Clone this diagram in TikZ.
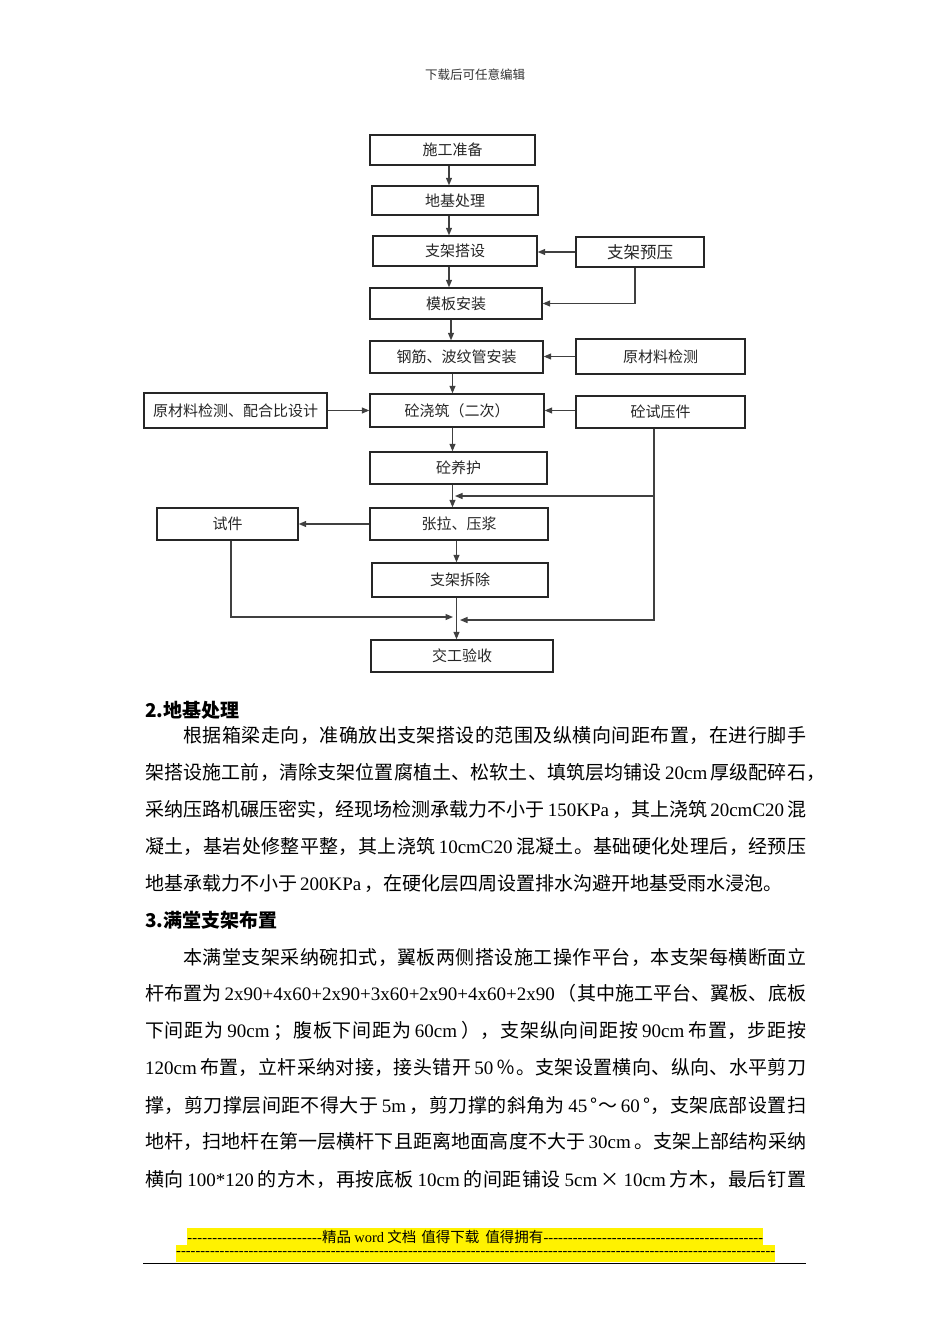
\documentclass[tikz,border=0pt]{standalone}
\usepackage{fontspec}
\setmainfont{Noto Sans CJK SC}
\newfontfamily\latf{Liberation Serif}
\usetikzlibrary{arrows.meta}

\newcount\mycc
\def\setcls#1#2{\mycc=#1 \loop\XeTeXcharclass\mycc=7 \advance\mycc by 1 \ifnum\mycc<#2 \repeat}
\setcls{"3000}{"3040}
\setcls{"4E00}{"A000}
\setcls{"FF00}{"FFF0}
\def\cjkg{\hskip 0pt plus 1fil minus 1pt\relax}
\XeTeXinterchartoks 7 7 = {\cjkg}
\XeTeXinterchartoks 7 0 = {\cjkg}
\XeTeXinterchartoks 0 7 = {\cjkg}
\newcommand\lat[1]{\hskip 3pt plus 1fil minus 1pt{\latf #1}\hskip 3pt plus 1fil minus 1pt\relax}
\newcommand\latb[1]{{\latf #1}\hskip 3pt plus 1fil minus 1pt\relax}
\newcommand\jl[2]{\hbox to #1{\XeTeXinterchartokenstate=1 #2}}
\newcommand\nl[1]{\hbox{\XeTeXinterchartokenstate=1 #1}}
\newcommand\dashrun{{\latf\xleaders\hbox{-}\hfill}}

\tikzset{
  fbox/.style={draw=black!85, line width=1.4pt, inner sep=0pt, font=\fontsize{15}{15}\selectfont, text=black!85},
  conn/.style={draw=black!75, line width=1.2pt},
  arr/.style={conn, -{Triangle[length=7.5pt,width=6pt]}},
  body/.style={anchor=base west, inner sep=0pt, font=\fontsize{19}{19}\selectfont},
  head/.style={anchor=base west, inner sep=0pt, font=\fontsize{19}{19}\selectfont\bfseries},
}

\begin{document}
\begin{tikzpicture}[x=1pt, y=-1pt]
\fill[white] (0,0) rectangle (950,1344);
\path[use as bounding box] (0,0) rectangle (950,1344);

% header
\node[font=\fontsize{12.5}{12.5}\selectfont, text=black!80, inner sep=0pt] (hdr) at (475,75) {下载后可任意编辑};

% flowchart boxes
\node[fbox, minimum width=165pt, minimum height=30pt] (A) at (452.5,150) {施工准备};
\node[fbox, minimum width=166pt, minimum height=29pt] (B) at (455,200.5) {地基处理};
\node[fbox, minimum width=164pt, minimum height=30pt] (C) at (455,251) {支架搭设};
\node[fbox, minimum width=128pt, minimum height=30pt, font=\fontsize{16.5}{16.5}\selectfont] (P) at (640,252) {支架预压};
\node[fbox, minimum width=172pt, minimum height=31pt] (D) at (456,303.5) {模板安装};
\node[fbox, minimum width=173pt, minimum height=32pt] (E) at (456.5,357) {钢筋、波纹管安装};
\node[fbox, minimum width=169pt, minimum height=35pt] (R) at (660.5,356.5) {原材料检测};
\node[fbox, minimum width=183pt, minimum height=35pt] (L) at (235.5,410.5) {原材料检测、配合比设计};
\node[fbox, minimum width=174pt, minimum height=33pt] (F) at (457,410.5) {砼浇筑（二次）};
\node[fbox, minimum width=169pt, minimum height=32pt] (S) at (660.5,412) {砼试压件};
\node[fbox, minimum width=177pt, minimum height=32pt] (G) at (458.5,468) {砼养护};
\node[fbox, minimum width=141pt, minimum height=32pt] (T) at (227.5,524) {试件};
\node[fbox, minimum width=178pt, minimum height=32pt] (H) at (459,524) {张拉、压浆};
\node[fbox, minimum width=176pt, minimum height=34pt] (I) at (460,580) {支架拆除};
\node[fbox, minimum width=182pt, minimum height=32pt] (J) at (462,656) {交工验收};

% columns and bend points
\coordinate (c1) at (449,0);
\coordinate (c2) at (451,0);
\coordinate (c3) at (452.5,0);
\coordinate (c4) at (456.5,0);
\coordinate (pk) at (635,0);
\coordinate (sk) at (654,0);
\coordinate (tk) at (231,0);
\coordinate (sm) at (654,496);
\coordinate (t1) at (455,496);
\coordinate (t2) at (460,620);
\coordinate (t3) at (453,617);

% main chain
\draw[arr] (A.south -| c1) -- (B.north -| c1);
\draw[arr] (B.south -| c1) -- (C.north -| c1);
\draw[arr] (C.south -| c1) -- (D.north -| c1);
\draw[arr] (D.south -| c2) -- (E.north -| c2);
\draw[arr] (E.south -| c3) -- (F.north -| c3);
\draw[arr] (F.south -| c3) -- (G.north -| c3);
\draw[arr] (G.south -| c3) -- (H.north -| c3);
\draw[arr] (H.south -| c4) -- (I.north -| c4);
\draw[arr] (I.south -| c4) -- (J.north -| c4);

% side connectors
\draw[arr] (P.west) -- (P.west -| C.east);
\draw[arr] (P.south -| pk) |- (D.east);
\draw[arr] (R.west) -- (R.west -| E.east);
\draw[arr] (L.east) -- (L.east -| F.west);
\draw[arr] (S.west |- F.east) -- (F.east);
\draw[arr] (S.south -| sk) |- (t2);
\draw[arr] (sm) -- (t1);
\draw[arr] (H.west) -- (H.west -| T.east);
\draw[arr] (T.south -| tk) |- (t3);

% section 2
\node[head] (h2) at (145,717) {2.地基处理};
\node[body] (p1a) at (183,742) {\jl{623pt}{根据箱梁走向，准确放出支架搭设的范围及纵横向间距布置，在进行脚手}};
\node[body] (p1b) at (145,779) {\jl{680pt}{架搭设施工前，清除支架位置腐植土、松软土、填筑层均铺设\lat{20cm}厚级配碎石，}};
\node[body] (p1c) at (145,816) {\jl{661pt}{采纳压路机碾压密实，经现场检测承载力不小于\lat{150KPa}，其上浇筑\lat{20cmC20}混}};
\node[body] (p1d) at (145,853) {\jl{661pt}{凝土，基岩处修整平整，其上浇筑\lat{10cmC20}混凝土。基础硬化处理后，经预压}};
\node[body] (p1e) at (145,890) {\nl{地基承载力不小于\lat{200KPa}，在硬化层四周设置排水沟避开地基受雨水浸泡。}};

% section 3
\node[head] (h3) at (145,927) {3.满堂支架布置};
\node[body] (p2a) at (183,964) {\jl{623pt}{本满堂支架采纳碗扣式，翼板两侧搭设施工操作平台，本支架每横断面立}};
\node[body] (p2b) at (145,1000) {\jl{661pt}{杆布置为\lat{2x90+4x60+2x90+3x60+2x90+4x60+2x90}（其中施工平台、翼板、底板}};
\node[body] (p2c) at (145,1037) {\jl{661pt}{下间距为\lat{90cm}；腹板下间距为\lat{60cm}），支架纵向间距按\lat{90cm}布置，步距按}};
\node[body] (p2d) at (145,1074) {\jl{661pt}{\latb{120cm}布置，立杆采纳对接，接头错开\lat{50}％。支架设置横向、纵向、水平剪刀}};
\node[body] (p2e) at (145,1112) {\jl{661pt}{撑，剪刀撑层间距不得大于\lat{5m}，剪刀撑的斜角为\lat{45}°～\lat{60}°，支架底部设置扫}};
\node[body] (p2f) at (145,1148) {\jl{661pt}{地杆，扫地杆在第一层横杆下且距离地面高度不大于\lat{30cm}。支架上部结构采纳}};
\node[body] (p2g) at (145,1186) {\jl{661pt}{横向\lat{100*120}的方木，再按底板\lat{10cm}的间距铺设\lat{5cm}×\lat{10cm}方木，最后钉置}};

% footer
\node[anchor=west, fill=yellow, inner sep=0pt, minimum height=17pt, font=\fontsize{14.5}{14.5}\selectfont] (f1) at (187,1236.5)
  {\hbox to 576pt{\hbox to 135pt{\dashrun}精品 {\latf word} 文档\hspace{5pt}值得下载\hspace{6pt}值得拥有\dashrun}};
\node[anchor=west, fill=yellow, inner sep=0pt, minimum height=17pt, font=\fontsize{14.5}{14.5}\selectfont] (f2) at (176,1253.5)
  {\hbox to 599pt{\dashrun}};
\coordinate (r1) at (143,1263.5);
\coordinate (r2) at (806,1263.5);
\draw[line width=1.8pt, black] (r1) -- (r2);
\end{tikzpicture}
\end{document}
